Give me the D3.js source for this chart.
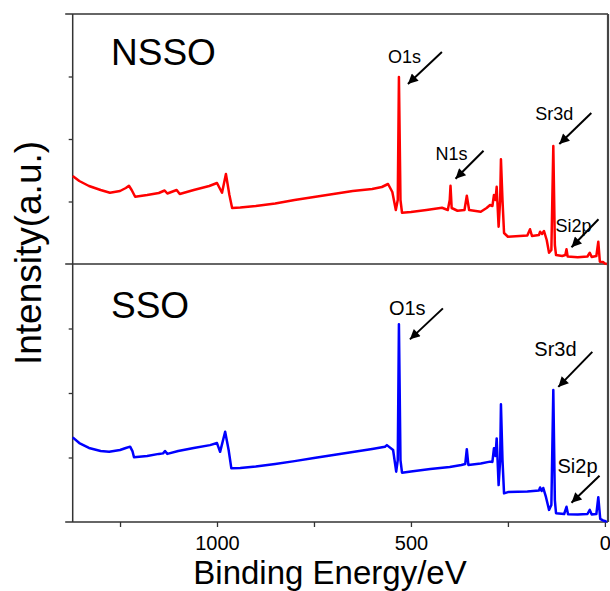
<!DOCTYPE html>
<html>
<head>
<meta charset="utf-8">
<script src="https://cdn.jsdelivr.net/npm/d3@7"></script>
<style>
  body { margin: 0; background: #fff; }
  text { font-family: "Liberation Sans", Arial, sans-serif; fill: #000; }
</style>
</head>
<body>
<div id="chart"></div>
<script>
// XPS survey spectra, binding energy (eV) vs intensity (a.u., 0-100 per panel)
const nssoEnergy = [1372, 1355, 1330, 1300, 1276, 1250, 1235, 1227, 1220, 1211, 1180, 1150, 1135, 1128, 1104, 1096,
  1060, 1020, 1000, 987, 977, 968, 961, 940, 900, 850, 800, 750, 700, 650, 600, 575, 559, 548, 539, 534, 531, 527,
  523, 500, 460, 420, 405, 400, 398, 395, 380, 362, 356, 350, 320, 305, 296, 290, 286, 282, 279, 274, 270, 268, 264,
  260, 250, 220, 200, 193, 188, 170, 167, 162, 157, 150, 144, 138, 133, 129, 126, 110, 102, 99, 96, 70, 45, 39, 34,
  22, 17, 13, 5, 0, -5];
const nssoIntensity = [35.2, 33.2, 31.2, 29.6, 28.5, 29.2, 30.4, 31.3, 29.6, 26.9, 27.6, 28.4, 29.4, 28.2, 29.6, 28.0,
  29.6, 31.2, 32.4, 28.5, 36.0, 27.6, 22.4, 22.6, 23.2, 24.2, 25.6, 26.8, 28.0, 29.2, 30.0, 30.8, 32.0, 28.8, 21.6, 25.6, 74.8, 25.6,
  20.5, 20.8, 21.6, 22.5, 21.6, 25.6, 31.3, 22.4, 21.3, 21.6, 27.3, 21.6, 20.9, 22.4, 23.6, 23.2, 27.6, 25.6, 30.9, 14.9, 25.6, 41.9, 25.6,
  12.4, 10.9, 11.2, 11.4, 13.9, 11.2, 11.6, 12.9, 12.0, 13.2, 9.6, 4.5, 5.6, 47.2, 7.6, 3.6, 3.2, 3.6, 5.9, 3.0, 2.7, 3.0, 4.5, 2.8,
  3.2, 8.9, 0.9, 0.8, 0.2, 0];

const ssoEnergy = [1372, 1355, 1330, 1300, 1278, 1250, 1235, 1224, 1218, 1214, 1180, 1150, 1139, 1134, 1128, 1100,
  1060, 1018, 1000, 992, 979, 970, 963, 940, 900, 850, 800, 750, 700, 650, 600, 567, 562, 546, 538, 534, 531, 527,
  523, 500, 450, 400, 370, 360, 356, 352, 320, 296, 290, 286, 282, 279, 274, 270, 268, 264,
  260, 250, 200, 170, 167, 163, 159, 152, 144, 138, 133, 129, 126, 105, 99, 95, 70, 45, 39, 34,
  22, 17, 12, 5, 0, -5];
const ssoIntensity = [32.8, 30.6, 28.7, 27.5, 27.2, 27.9, 28.7, 29.2, 27.5, 25.1, 25.6, 26.4, 26.6, 27.5, 26.4, 27.5,
  28.7, 29.8, 30.6, 27.2, 35.0, 27.9, 20.8, 20.9, 21.5, 22.5, 23.6, 24.8, 26.0, 27.1, 28.3, 29.2, 29.8, 27.9, 19.5, 24.0, 76.6, 24.0,
  19.1, 19.6, 20.5, 21.3, 22.1, 22.5, 28.2, 22.1, 22.7, 23.4, 23.3, 28.6, 25.6, 32.4, 14.3, 24.0, 45.6, 24.0,
  11.1, 11.6, 11.8, 12.2, 13.4, 12.0, 13.2, 9.7, 4.7, 6.6, 51.2, 8.5, 3.4, 3.1, 5.9, 3.0, 2.9, 3.1, 4.7, 2.9,
  3.1, 9.6, 1.2, 0.6, 0.4, 0];

const nssoPeaks = ["O1s", "N1s", "Sr3d", "Si2p"];
const nssoPeakE = [531, 398, 133, 99];
const ssoPeaks = ["O1s", "Sr3d", "Si2p"];
const ssoPeakE = [531, 133, 99];

const xTicks = [1250, 1000, 750, 500, 250, 0];
const xTickLabels = ["", "1000", "", "500", "", "0"];

const W = 610, H = 591;
const plotLeft = 72.7, plotRight = 608, plotTop = 14, plotMid = 264, plotBottom = 522;

const svg = d3.select("#chart").append("svg")
  .attr("width", W).attr("height", H);

const x = d3.scaleLinear().domain([1372, -8]).range([plotLeft, plotRight]);
const yTop = d3.scaleLinear().domain([0, 100]).range([plotMid, plotTop]);
const yBot = d3.scaleLinear().domain([0, 100]).range([plotBottom, plotMid]);

// arrow head marker
svg.append("defs").append("marker")
  .attr("id", "head")
  .attr("viewBox", "0 0 10 10")
  .attr("refX", 10).attr("refY", 5)
  .attr("markerUnits", "userSpaceOnUse")
  .attr("markerWidth", 12).attr("markerHeight", 10)
  .attr("orient", "auto")
  .append("path")
  .attr("d", "M0,0 L10,5 L0,10 Z")
  .attr("fill", "#000");

// y ticks (no labels) for each panel
[yTop, yBot].forEach(y => {
  svg.append("g")
    .attr("transform", `translate(${plotLeft},0)`)
    .call(d3.axisLeft(y).tickValues([25, 50, 75]).tickSize(4).tickFormat(""))
    .call(g => g.select(".domain").remove())
    .selectAll("line").attr("stroke", "#333").attr("stroke-width", 1.3);
});

// bottom axis
const xAxis = svg.append("g")
  .attr("transform", `translate(0,${plotBottom})`)
  .call(d3.axisBottom(x).tickValues(xTicks).tickSize(5)
    .tickFormat((d, i) => xTickLabels[i]));
xAxis.select(".domain").remove();
xAxis.selectAll("line").attr("stroke", "#333").attr("stroke-width", 1.3);
xAxis.selectAll("text")
  .attr("y", 28).attr("dy", 0)
  .style("font-size", "20px")
  .style("font-family", "Liberation Sans, Arial, sans-serif")
  .attr("fill", "#000");

// frame
const frame = svg.append("g").attr("stroke", "#333").attr("stroke-width", 1.5);
[plotTop, plotMid, plotBottom].forEach(yy => {
  frame.append("line").attr("x1", plotLeft - 7.5).attr("x2", plotRight).attr("y1", yy).attr("y2", yy);
});
frame.append("line").attr("x1", plotLeft).attr("x2", plotLeft).attr("y1", plotTop).attr("y2", plotBottom);
frame.append("line").attr("x1", plotRight).attr("x2", plotRight).attr("y1", plotTop).attr("y2", plotBottom)
  .attr("stroke-width", 2.2).attr("stroke", "#444");

// spectra
function drawSpectrum(energy, intensity, y, color) {
  const pts = energy.map((e, i) => [e, intensity[i]]);
  svg.append("path")
    .datum(pts)
    .attr("fill", "none")
    .attr("stroke", color)
    .attr("stroke-width", 2.5)
    .attr("stroke-linejoin", "round")
    .attr("d", d3.line().x(d => x(d[0])).y(d => y(d[1])));
}
drawSpectrum(nssoEnergy, nssoIntensity, yTop, "#ff0000");
drawSpectrum(ssoEnergy, ssoIntensity, yBot, "#0000ff");

// peak annotations: offsets from the peak top for arrow head, arrow tail and label
const nssoLayout = {
  O1s:  { head: [9, 7],  tail: [43, -25], text: [-11, -14] },
  N1s:  { head: [5, -7], tail: [33, -35], text: [-15, -26] },
  Sr3d: { head: [6, -2], tail: [38, -33], text: [-18, -26] },
  Si2p: { head: [5, -2], tail: [32, -30], text: [-11, -17] }
};
const ssoLayout = {
  O1s:  { head: [11, 15], tail: [44, -16], text: [-10, -9] },
  Sr3d: { head: [5, -3],  tail: [39, -38], text: [-19, -34] },
  Si2p: { head: [5, -4],  tail: [33, -31], text: [-9, -34] }
};

function annotate(names, peakE, energy, intensity, y, layout, fontSize) {
  names.forEach((name, i) => {
    const k = energy.indexOf(peakE[i]);
    const px = x(peakE[i]), py = y(intensity[k]);
    const L = layout[name];
    svg.append("line")
      .attr("x1", px + L.tail[0]).attr("y1", py + L.tail[1])
      .attr("x2", px + L.head[0]).attr("y2", py + L.head[1])
      .attr("stroke", "#000").attr("stroke-width", 2)
      .attr("marker-end", "url(#head)");
    svg.append("text")
      .attr("x", px + L.text[0]).attr("y", py + L.text[1])
      .style("font-size", fontSize + "px")
      .text(name);
  });
}
annotate(nssoPeaks, nssoPeakE, nssoEnergy, nssoIntensity, yTop, nssoLayout, 18);
annotate(ssoPeaks, ssoPeakE, ssoEnergy, ssoIntensity, yBot, ssoLayout, 20);

// panel names
svg.append("text").attr("x", 111).attr("y", 65).style("font-size", "37px").text("NSSO");
svg.append("text").attr("x", 111).attr("y", 318).style("font-size", "37px").text("SSO");

// axis titles
svg.append("text")
  .attr("x", 330).attr("y", 584)
  .attr("text-anchor", "middle")
  .style("font-size", "33px")
  .text("Binding Energy/eV");
svg.append("text")
  .attr("transform", "translate(41,253) rotate(-90)")
  .attr("text-anchor", "middle")
  .style("font-size", "37px")
  .text("Intensity(a.u.)");
</script>
</body>
</html>
